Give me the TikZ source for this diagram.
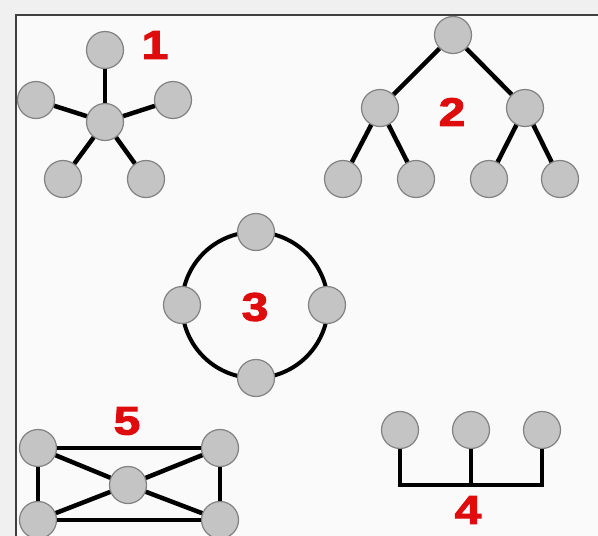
\documentclass[tikz,border=0pt]{standalone}
\usepackage{fontspec}
\newfontfamily\tagfont{Liberation Sans}[FakeStretch=1.2,FakeBold=2.5]
\usepackage{xcolor}
\definecolor{netred}{RGB}{222,12,12}
\definecolor{hostgray}{RGB}{196,196,196}
\definecolor{hostedge}{RGB}{130,130,130}

\begin{document}
\begin{tikzpicture}[x=1pt,y=-1pt,
  host/.style={circle,draw=hostedge,fill=hostgray,line width=1.2pt,minimum size=37pt,inner sep=0pt},
  link/.style={line width=4.5pt},
  tag/.style={text=netred,font=\tagfont\bfseries\fontsize{40}{40}\selectfont,inner sep=0pt}]
\useasboundingbox (0,0) rectangle (598,536);
\fill [black!6] (0,0) rectangle (598,536);
\fill [black!2] (16,15) rectangle (598,536);
\draw [line width=2pt,black!75] (16,536) -- (16,15) -- (598,15);

% 1: star
\node [host] (s0) at (105,122) {};
\node [host] (s1) at (105,50) {};
\node [host] (s2) at (36,100) {};
\node [host] (s3) at (173,100) {};
\node [host] (s4) at (63,179) {};
\node [host] (s5) at (146,179) {};
\node [tag] (t1) at (155,45) {1};
\draw [link] (s0) -- (s1);
\draw [link] (s0) -- (s2);
\draw [link] (s0) -- (s3);
\draw [link] (s0) -- (s4);
\draw [link] (s0) -- (s5);

% 2: tree
\node [host] (r0) at (453,35) {};
\node [host] (r1) at (380,108) {};
\node [host] (r2) at (525,108) {};
\node [host] (r3) at (343,179) {};
\node [host] (r4) at (416,179) {};
\node [host] (r5) at (489,179) {};
\node [host] (r6) at (560,179) {};
\node [tag] (t2) at (452,112) {2};
\draw [link] (r0) -- (r1);
\draw [link] (r0) -- (r2);
\draw [link] (r1) -- (r3);
\draw [link] (r1) -- (r4);
\draw [link] (r2) -- (r5);
\draw [link] (r2) -- (r6);

% 3: ring
\coordinate (c3) at (255,305);
\draw [line width=4pt] (c3) circle (73);
\node [host] (g1) at (256,232) {};
\node [host] (g2) at (182,305) {};
\node [host] (g3) at (327,305) {};
\node [host] (g4) at (256,378) {};
\node [tag] (t3) at (255,307) {3};

% 4: bus
\node [host] (b1) at (400,430) {};
\node [host] (b2) at (471,430) {};
\node [host] (b3) at (542,430) {};
\coordinate (bus) at (471,485);
\node [tag] (t4) at (468,510) {4};
\draw [link] (b1) |- (bus) -| (b3);
\draw [link] (b2) -- (bus);

% 5: mesh
\node [host] (m1) at (38,448) {};
\node [host] (m2) at (220,448) {};
\node [host] (m0) at (128,485) {};
\node [host] (m3) at (38,520) {};
\node [host] (m4) at (220,520) {};
\node [tag] (t5) at (127,421) {5};
\draw [link] (m1) -- (m2);
\draw [link] (m2) -- (m4);
\draw [link] (m4) -- (m3);
\draw [link] (m3) -- (m1);
\draw [link] (m0) -- (m1);
\draw [link] (m0) -- (m2);
\draw [link] (m0) -- (m3);
\draw [link] (m0) -- (m4);
\end{tikzpicture}
\end{document}
